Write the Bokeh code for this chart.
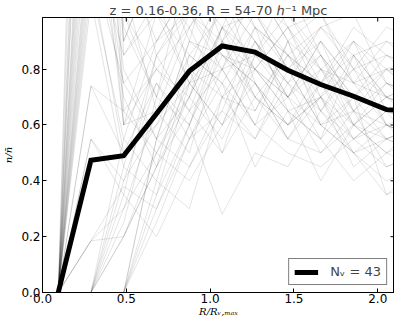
import math
from bokeh.plotting import figure
from bokeh.models import FixedTicker, Range1d, ColumnDataSource, Legend, LegendItem, PrintfTickFormatter
from bokeh.embed import file_html
from bokeh.resources import INLINE

# radial bins (R / R_v,max)
r_bins = [0.094, 0.289, 0.484, 0.680, 0.876, 1.072, 1.268, 1.464, 1.660, 1.856, 2.052, 2.248]

# stacked mean profile
mean_profile = [0.0, 0.474, 0.490, 0.640, 0.793, 0.883, 0.861, 0.796, 0.745, 0.703, 0.655, 0.650]

# individual void profiles (n / n_bar)
v01 = [0, 2.5, 1.2, 0.9, 1.1, 0.95, 0.8, 0.7, 0.85, 0.6, 0.55, 0.6]
v02 = [0, 1.6, 0.6, 0.8, 0.7, 1.05, 0.9, 0.75, 0.65, 0.8, 0.7, 0.75]
v03 = [0, 1.2, 0.75, 0.55, 0.9, 0.8, 1.1, 0.9, 0.6, 0.7, 0.85, 0.8]
v04 = [0, 3.0, 0.9, 1.2, 0.8, 0.7, 0.65, 0.9, 1.0, 0.75, 0.6, 0.55]
v05 = [0, 1.9, 1.0, 0.7, 0.6, 0.85, 0.75, 0.55, 0.7, 0.9, 0.75, 0.7]
v06 = [0, 0.74, 0.65, 0.5, 0.75, 0.9, 0.7, 0.85, 0.75, 0.55, 0.65, 0.5]
v07 = [0, 0.55, 0.4, 0.75, 0.6, 0.95, 1.0, 0.8, 0.6, 0.65, 0.45, 0.5]
v08 = [0, 0.185, 0.2, 0.45, 0.7, 0.55, 0.8, 0.95, 0.8, 0.6, 0.7, 0.65]
v09 = [0, 0.185, 0.38, 0.3, 0.55, 0.8, 0.6, 0.7, 0.9, 0.75, 0.8, 0.7]
v10 = [0, 1.15, 0.5, 0.6, 0.85, 0.75, 0.95, 0.65, 0.55, 0.85, 0.6, 0.65]
v11 = [0, 0, 0.2, 0.5, 0.4, 0.6, 0.75, 0.6, 0.7, 0.45, 0.55, 0.5]
v12 = [0, 0, 0.0, 0.35, 0.6, 0.28, 0.5, 0.45, 0.65, 0.5, 0.4, 0.45]
v13 = [0, 1.5, 0.75, 0.9, 1.1, 1.2, 0.95, 0.85, 0.75, 0.9, 0.8, 0.85]
v14 = [0, 0, 0.0, 0.55, 0.9, 1.3, 1.1, 0.9, 0.8, 0.75, 0.7, 0.6]
v15 = [0, 0, 0.35, 0.2, 0.45, 0.65, 0.55, 0.8, 0.6, 0.5, 0.6, 0.55]
v16 = [0, 1.8, 0.6, 1.0, 0.85, 1.0, 0.8, 0.7, 0.9, 0.65, 0.75, 0.7]
v17 = [0, 2.6, 0.95, 0.7, 1.2, 0.9, 1.05, 0.95, 0.7, 0.6, 0.5, 0.6]
v18 = [0, 0, 0.0, 0.4, 0.3, 0.7, 0.9, 0.75, 0.55, 0.7, 0.35, 0.4]
v19 = [0, 1.05, 0.45, 0.85, 0.65, 0.8, 0.6, 0.5, 0.45, 0.55, 0.6, 0.5]
v20 = [0, 1.25, 1.3, 1.1, 0.95, 1.15, 1.0, 0.8, 0.95, 0.85, 0.9, 0.8]
v21 = [0, 0, 0.25, 0.7, 1.0, 0.85, 0.7, 0.6, 0.75, 0.95, 0.85, 0.75]
v22 = [0, 0, 0.55, 0.4, 0.8, 0.5, 0.85, 1.0, 0.85, 0.7, 0.65, 0.6]
v23 = [0, 1.3, 0.85, 1.05, 0.75, 0.6, 0.9, 0.7, 0.5, 0.6, 0.7, 0.65]
v24 = [0, 2.0, 1.1, 0.65, 0.95, 1.1, 0.75, 0.6, 0.8, 0.7, 0.55, 0.5]
v25 = [0, 0.185, 0.3, 0.65, 0.5, 0.9, 1.15, 0.95, 1.0, 0.8, 0.95, 0.9]
v26 = [0, 0, 0.0, 0.25, 0.55, 0.75, 0.45, 0.65, 0.4, 0.6, 0.5, 0.55]
v27 = [0, 3.5, 0.65, 0.8, 0.95, 0.7, 0.55, 0.75, 0.95, 1.0, 0.75, 0.7]
v28 = [0, 1.1, 0.55, 0.9, 1.0, 0.8, 0.85, 1.1, 0.85, 0.65, 0.8, 0.75]
v29 = [0, 0, 0.4, 0.6, 0.75, 1.05, 0.9, 0.7, 0.6, 0.5, 0.35, 0.45]
v30 = [0, 1.7, 0.8, 0.55, 0.7, 0.95, 1.2, 1.0, 0.8, 0.9, 0.65, 0.7]
v31 = [0, 0, 0.2, 0.45, 0.65, 0.5, 0.7, 0.55, 0.75, 0.6, 0.75, 0.65]
v32 = [0, 2.1, 0.9, 1.2, 0.9, 0.85, 0.8, 0.65, 0.7, 0.55, 0.65, 0.6]
v33 = [0, 0, 0.0, 0.3, 0.6, 0.9, 0.65, 0.85, 0.7, 0.8, 0.6, 0.55]
v34 = [0, 0.74, 0.5, 0.75, 0.55, 0.65, 0.95, 0.8, 0.9, 0.75, 0.9, 0.85]
v35 = [0, 1.35, 0.7, 0.45, 0.85, 0.75, 0.6, 0.9, 0.65, 0.85, 0.7, 0.75]
v36 = [0, 0.55, 0.35, 0.85, 1.05, 0.85, 0.75, 0.55, 0.5, 0.65, 0.55, 0.6]
v37 = [0, 1.4, 1.0, 0.8, 0.65, 0.95, 0.85, 0.75, 0.85, 0.7, 0.8, 0.7]
v38 = [0, 2.8, 0.6, 0.65, 0.8, 1.1, 0.95, 0.85, 0.65, 0.55, 0.45, 0.5]
v39 = [0, 0, 0.0, 0.55, 0.45, 0.7, 0.8, 0.65, 0.55, 0.4, 0.5, 0.45]
v40 = [0, 0, 0.45, 0.35, 0.75, 0.6, 0.85, 0.7, 0.8, 0.65, 0.6, 0.55]
v41 = [0, 2.2, 1.3, 0.85, 1.0, 0.9, 0.8, 0.95, 0.75, 0.85, 0.7, 0.65]
v42 = [0, 4.0, 0.85, 1.0, 0.75, 0.8, 1.0, 0.85, 0.95, 0.8, 0.85, 0.8]
v43 = [0, 0, 0.3, 0.5, 0.7, 0.95, 0.7, 0.6, 0.7, 0.5, 0.55, 0.6]

profiles = [v01, v02, v03, v04, v05, v06, v07, v08, v09, v10, v11, v12, v13, v14, v15,
            v16, v17, v18, v19, v20, v21, v22, v23, v24, v25, v26, v27, v28, v29, v30,
            v31, v32, v33, v34, v35, v36, v37, v38, v39, v40, v41, v42, v43]

x_ticks = [0.0, 0.5, 1.0, 1.5, 2.0]
y_ticks = [0.0, 0.2, 0.4, 0.6, 0.8]
x_lim = (0.0, 2.1)
y_lim = (0.0, 0.985)
n_voids = len(profiles)

title = "z = 0.16-0.36, R = 54-70 \u210e\u207b\u00b9 Mpc"
x_label = "R/R\u1d65,\u2098\u2090\u2093"
y_label = "n/n\u0304"

p = figure(frame_width=352, frame_height=275, output_backend="svg", toolbar_location=None,
           x_range=Range1d(*x_lim), y_range=Range1d(*y_lim),
           min_border_left=33, min_border_right=0, min_border_top=14, min_border_bottom=0)
p.title.text = title
p.title.align = "center"
p.title.text_font = "DejaVu Sans"
p.title.text_font_size = "13px"
p.title.text_font_style = "normal"
p.title.standoff = 0
p.title.offset = 0

p.grid.visible = False
p.outline_line_color = "black"
p.outline_line_width = 1

src = ColumnDataSource(dict(xs=[r_bins] * n_voids, ys=profiles))
p.multi_line(xs="xs", ys="ys", source=src, line_color="black", line_alpha=0.11, line_width=1)

mean_r = p.line(r_bins, mean_profile, line_color="black", line_width=5, line_join="miter")

for ax in (p.xaxis[0], p.yaxis[0]):
    ax.major_tick_in = 4
    ax.major_tick_out = 0
    ax.minor_tick_line_color = None
    ax.major_label_text_font = "DejaVu Sans"
    ax.major_label_text_font_size = "12px"
    ax.major_label_text_color = "black"
    ax.axis_line_color = "black"
    ax.axis_label_text_font = "DejaVu Serif"
    ax.axis_label_text_font_style = "italic"
    ax.axis_label_text_font_size = "10px"
    ax.axis_label_text_color = "black"
    ax.major_label_standoff = 1
    ax.axis_label_standoff = 0
    ax.formatter = PrintfTickFormatter(format="%.1f")

p.yaxis[0].major_label_standoff = 2
p.yaxis[0].axis_label_standoff = 4
p.xaxis[0].ticker = FixedTicker(ticks=x_ticks)
p.yaxis[0].ticker = FixedTicker(ticks=y_ticks)
p.xaxis[0].axis_label = x_label
p.yaxis[0].axis_label = y_label

# inward ticks on the top and right frame edges (matplotlib style)
p.ray(x=x_ticks, y=[y_lim[1]] * len(x_ticks), length=4, length_units="screen",
      angle=-math.pi / 2, line_color="black", line_width=1)
p.ray(x=[x_lim[1]] * len(y_ticks), y=y_ticks, length=4, length_units="screen",
      angle=math.pi, line_color="black", line_width=1)

legend = Legend(items=[LegendItem(label="N\u1d65 = " + str(n_voids), renderers=[mean_r])],
                location="bottom_right", border_line_color="black", border_line_width=1,
                label_text_font="DejaVu Sans", label_text_font_size="13px",
                glyph_width=24, glyph_height=12, label_standoff=12, padding=5, margin=7,
                background_fill_alpha=1.0)
p.add_layout(legend)

open("out.html", "w").write(file_html(p, INLINE))
